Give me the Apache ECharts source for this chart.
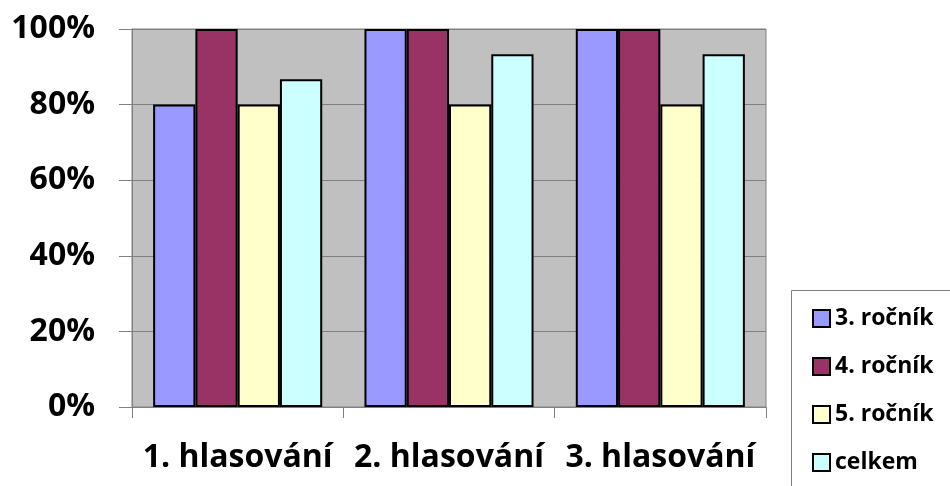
<!DOCTYPE html>
<html>
<head>
<meta charset="utf-8">
<script src="https://cdn.jsdelivr.net/npm/echarts@6/dist/echarts.min.js"></script>
<style>html,body{margin:0;padding:0;background:#fff}#c{width:950px;height:486px}</style>
</head>
<body>
<div id="c"></div>
<script>
// Podíl hlasů podle ročníku v jednotlivých hlasováních (v %)
const categories = ['1. hlasování', '2. hlasování', '3. hlasování'];
const seriesNames = ['3. ročník', '4. ročník', '5. ročník', 'celkem'];
const rocnik3 = [80, 100, 100];
const rocnik4 = [100, 100, 100];
const rocnik5 = [80, 80, 80];
const celkem = [86.7, 93.3, 93.3];
const colors = ['#9999FF', '#993366', '#FFFFCC', '#CCFFFF'];

const values = [rocnik3, rocnik4, rocnik5, celkem];
const font = '"Open Sans", "Liberation Sans", sans-serif';

const chart = echarts.init(document.getElementById('c'));
chart.setOption({
  animation: false,
  textStyle: { fontFamily: font },
  grid: {
    left: 132, right: 184, top: 29, bottom: 79,
    show: true, backgroundColor: '#C0C0C0', borderColor: '#808080', borderWidth: 1
  },
  // legend frame, open towards the right and bottom edges
  graphic: [{
    type: 'rect', left: 791, top: 290,
    shape: { width: 200, height: 250 },
    style: { fill: '#fff', stroke: '#808080', lineWidth: 1 },
    z: 0
  }],
  legend: {
    orient: 'vertical',
    left: 812, top: 307,
    itemWidth: 17, itemHeight: 17, itemGap: 25,
    icon: 'rect',
    padding: 0,
    z: 5,
    textStyle: { fontFamily: font, fontSize: 23, fontWeight: 'bold', color: '#000' },
    data: seriesNames
  },
  xAxis: {
    type: 'category',
    data: categories,
    axisLine: { lineStyle: { color: '#808080' } },
    axisTick: { show: true, length: 11, lineStyle: { color: '#808080' } },
    axisLabel: { fontSize: 32, fontWeight: 'bold', color: '#000', margin: 35, interval: 0, hideOverlap: false }
  },
  yAxis: {
    type: 'value', min: 0, max: 100, interval: 20,
    axisLine: { show: true, lineStyle: { color: '#808080' } },
    axisTick: { show: true, length: 13, lineStyle: { color: '#808080' } },
    axisLabel: { fontSize: 32, fontWeight: 'bold', color: '#000', margin: 37, formatter: '{value}%' },
    splitLine: { lineStyle: { color: '#808080', width: 1 } }
  },
  series: seriesNames.map((name, i) => ({
    name: name,
    type: 'bar',
    data: values[i],
    barGap: '0%',
    barCategoryGap: '20%',
    itemStyle: { color: colors[i], borderColor: '#000', borderWidth: 2 }
  }))
});
</script>
</body>
</html>
